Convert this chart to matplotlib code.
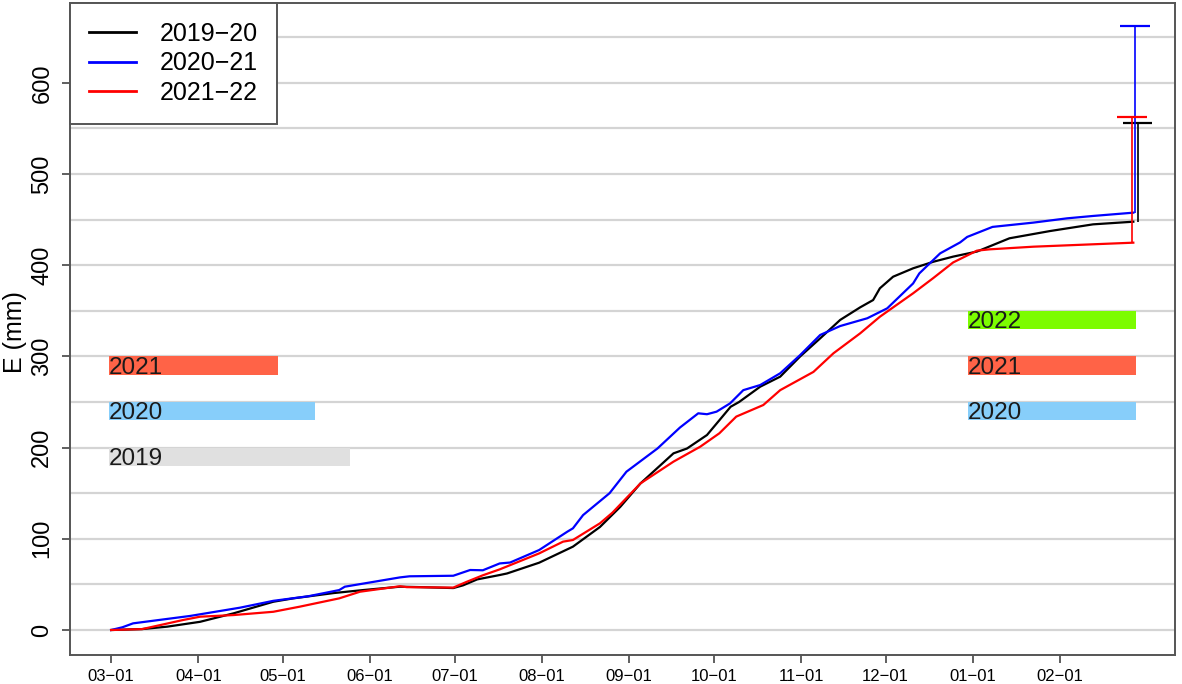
import numpy as np
import matplotlib
matplotlib.use("Agg")
import matplotlib.pyplot as plt

plt.rcParams['font.family'] = ['Liberation Sans', 'DejaVu Sans']

# days since 1 March
MONTH_DAYS = [0, 31, 61, 92, 122, 153, 184, 214, 245, 275, 306, 337]
MONTH_LABELS = ["03\u221201", "04\u221201", "05\u221201", "06\u221201", "07\u221201", "08\u221201",
                "09\u221201", "10\u221201", "11\u221201", "12\u221201", "01\u221201", "02\u221201"]

# cumulative E (mm)
days_1920 = [0, 11, 20, 31.6, 43.5, 57.6, 64.7, 79, 89.5, 102.6, 110, 121.5, 125, 130, 138, 140.6,
             152, 164, 173.6, 180.8, 188, 199.7, 204.5, 211.6, 216, 220, 223, 230.5, 237.6, 244.7,
             251.8, 258.9, 266, 270.6, 273, 277.7, 284.8, 292, 299, 307.5, 319, 333.5, 348.7, 363]
e_1920 = [0, 1, 3.7, 9, 18.3, 31, 34.7, 40.5, 43.8, 47.5, 47, 46, 49, 55.5, 60.3, 62,
          73.8, 91.4, 113, 135, 160.8, 193.7, 199, 213.8, 230, 244.8, 250, 266.8, 277.8, 300,
          319.8, 340, 353.8, 361.8, 374.7, 387.4, 396.6, 403.8, 409.4, 415, 429.5, 437.5, 444.8, 447.7]

days_2021 = [0, 4, 7.8, 28, 45.8, 57.6, 70, 81, 83, 102.6, 106, 121.5, 127.5, 132, 138, 141.7,
             152, 162, 164, 167.6, 177, 183, 194, 202, 208.5, 211.6, 215, 219.8, 224.5, 230.5,
             237.6, 244.7, 251.8, 258.9, 268.5, 275.6, 284.8, 287, 294.4, 301.5, 304, 313, 327.5,
             339.5, 348.7, 363]
e_2021 = [0, 3, 7.3, 15.4, 24.5, 32, 37, 43.8, 47.5, 57.7, 58.9, 59.5, 65.8, 65.5, 73, 74,
          87.7, 107.8, 111.5, 126, 150, 173.6, 199, 222, 237.6, 236.6, 239.4, 248.5, 263, 268.6,
          281.5, 301.5, 323.5, 333.3, 341.8, 352.7, 380, 391, 413, 425, 431, 442, 446.7,
          451.4, 454, 457.6]

days_2122 = [0, 11, 25.6, 31.6, 43.5, 57.6, 67, 81, 88.4, 102.6, 105, 121.5, 126.4, 132, 138,
             152, 160.5, 164, 173.6, 178, 188, 199.7, 209.2, 216, 222, 231.6, 237.6, 249.4, 256.5,
             266, 273, 284.8, 292, 299, 307.5, 312, 327.5, 363]
e_2122 = [0, 1, 11, 14.6, 16.4, 20, 25.6, 34.7, 42, 48, 47, 46.5, 53, 60, 66.5,
          84, 96.9, 98.7, 117, 128.6, 160.8, 184.6, 201, 215.7, 234, 246.7, 263, 283, 303.4,
          325.3, 343.5, 369.2, 386, 403, 416, 417.4, 420.3, 424.7]

SEASONS = ["2019\u221220", "2020\u221221", "2021\u221222"]
SEASON_COLORS = ["black", "blue", "red"]

# upper bound bars drawn at the season end
ERR_X = [364.5, 363.5, 362.5]
ERR_TOP = [556, 662, 562]

# year bars: label, start day, end day, lower, upper
BAR_YEARS = ["2021", "2020", "2019", "2022", "2021", "2020"]
BAR_START = [-0.7, -0.7, -0.7, 304.3, 304.3, 304.3]
BAR_END = [59.3, 72.4, 85.0, 364.0, 364.0, 364.0]
BAR_LOW = [280, 230, 180, 330, 280, 230]
BAR_HIGH = [300, 250, 200, 350, 300, 250]
YEAR_COLORS = {"2019": "#E0E0E0", "2020": "#87CEFA", "2021": "#FF6347", "2022": "#7CFC00"}


def main():
    fig = plt.figure(figsize=(11.82, 6.84), dpi=100)
    ax = fig.add_axes([70 / 1182, 29 / 684, 1105 / 1182, 652 / 684])

    # horizontal guide lines
    for h in range(0, 700, 50):
        ax.axhline(h, color='#D4D4D4', linewidth=1.6, zorder=0)

    # year bars + labels
    for yr, x0, x1, lo, hi in zip(BAR_YEARS, BAR_START, BAR_END, BAR_LOW, BAR_HIGH):
        ax.barh(lo, x1 - x0, height=hi - lo, left=x0, align='edge',
                color=YEAR_COLORS[yr], linewidth=0, zorder=1)
        ax.text(x0, lo + 1, yr, fontsize=17.5, color='#1a1a1a', ha='left', va='baseline', zorder=2)

    # cumulative curves
    series = [(days_1920, e_1920), (days_2021, e_2021), (days_2122, e_2122)]
    for (d, e), name, col, ex, top in zip(series, SEASONS, SEASON_COLORS, ERR_X, ERR_TOP):
        ax.plot(d, e, color=col, linewidth=1.6, label=name, zorder=3)
        ax.vlines(ex, e[-1], top, color=col, linewidth=1.2, zorder=3)
        ax.hlines(top, ex - 5.3, ex + 5.3, color=col, linewidth=1.6, zorder=3)

    ax.set_xlim(-14.6, 377.8)
    ax.set_ylim(-27.4, 687.5)

    ax.set_xticks(MONTH_DAYS)
    ax.set_xticklabels(MONTH_LABELS, fontsize=12)
    ax.set_yticks(range(0, 700, 100))
    ax.set_yticklabels([str(v) for v in range(0, 700, 100)], fontsize=17,
                       rotation=90, va='center')
    ax.tick_params(axis='both', direction='out', length=6, width=1.2, color='#444444')
    ax.tick_params(axis='x', pad=4)
    ax.tick_params(axis='y', pad=6)
    for sp in ax.spines.values():
        sp.set_color('#555555')
        sp.set_linewidth(1.4)

    fig.text(15 / 1182, 1 - 332 / 684, "E (mm)", rotation=90, fontsize=18,
             ha='center', va='center')

    leg = ax.legend(loc='upper left', bbox_to_anchor=(0, 1), borderaxespad=0,
                    fontsize=18, handlelength=1.9, handletextpad=0.95,
                    labelspacing=0.22, borderpad=0.75, fancybox=False, framealpha=1)
    leg.get_frame().set_edgecolor('#555555')
    leg.get_frame().set_linewidth(1.4)
    for line in leg.get_lines():
        line.set_linewidth(2)

    fig.savefig("out.png", dpi=100)


if __name__ == "__main__":
    main()
